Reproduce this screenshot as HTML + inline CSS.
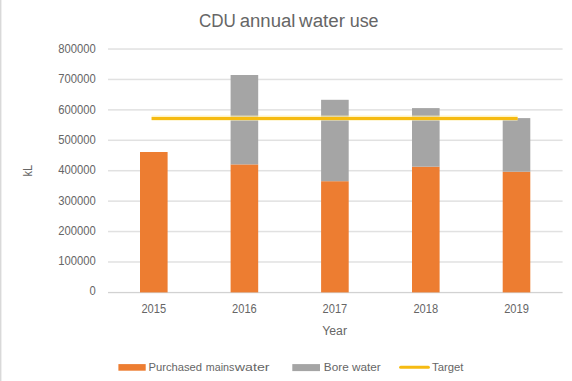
<!DOCTYPE html><html><head><meta charset="utf-8"><style>html,body{margin:0;padding:0;background:#fff;width:572px;height:381px;overflow:hidden}svg{display:block}text{font-family:"Liberation Sans",sans-serif;fill:#666666}</style></head><body>
<svg width="572" height="381" viewBox="0 0 572 381">
<rect x="0" y="0" width="572" height="381" fill="#fff"/>
<rect x="0" y="0" width="1" height="381" fill="#d9d9d9"/><rect x="1" y="0" width="1" height="381" fill="#efefef"/>
<rect x="108" y="261.23" width="454.6" height="1.5" fill="#e1e1e1"/>
<rect x="108" y="230.81" width="454.6" height="1.5" fill="#e1e1e1"/>
<rect x="108" y="200.39" width="454.6" height="1.5" fill="#e1e1e1"/>
<rect x="108" y="169.97" width="454.6" height="1.5" fill="#e1e1e1"/>
<rect x="108" y="139.55" width="454.6" height="1.5" fill="#e1e1e1"/>
<rect x="108" y="109.13" width="454.6" height="1.5" fill="#e1e1e1"/>
<rect x="108" y="78.71" width="454.6" height="1.5" fill="#e1e1e1"/>
<rect x="108" y="48.29" width="454.6" height="1.5" fill="#e1e1e1"/>
<rect x="108" y="291.90" width="454.6" height="1.3" fill="#d2d2d2"/>
<rect x="140.0" y="152.0" width="27.6" height="140.40" fill="#ed7d31"/>
<rect x="230.6" y="164.4" width="27.6" height="128.00" fill="#ed7d31"/>
<rect x="230.6" y="75.0" width="27.6" height="89.40" fill="#a5a5a5"/>
<rect x="321.1" y="181.2" width="27.6" height="111.20" fill="#ed7d31"/>
<rect x="321.1" y="99.8" width="27.6" height="81.40" fill="#a5a5a5"/>
<rect x="412.0" y="166.7" width="27.6" height="125.70" fill="#ed7d31"/>
<rect x="412.0" y="108.1" width="27.6" height="58.60" fill="#a5a5a5"/>
<rect x="502.7" y="171.7" width="27.6" height="120.70" fill="#ed7d31"/>
<rect x="502.7" y="118.1" width="27.6" height="53.60" fill="#a5a5a5"/>
<line x1="151.6" y1="118.1" x2="517.6" y2="118.1" stroke="#fff0b0" stroke-width="5.2" opacity="0.7"/>
<line x1="151.6" y1="118.4" x2="517.6" y2="118.4" stroke="#f6bb12" stroke-width="3"/>
<text x="89.45" y="295.40" font-size="12.1" textLength="6.25" lengthAdjust="spacingAndGlyphs">0</text>
<text x="58.20" y="265.11" font-size="12.1" textLength="37.50" lengthAdjust="spacingAndGlyphs">100000</text>
<text x="58.20" y="234.82" font-size="12.1" textLength="37.50" lengthAdjust="spacingAndGlyphs">200000</text>
<text x="58.20" y="204.53" font-size="12.1" textLength="37.50" lengthAdjust="spacingAndGlyphs">300000</text>
<text x="58.20" y="174.24" font-size="12.1" textLength="37.50" lengthAdjust="spacingAndGlyphs">400000</text>
<text x="58.20" y="143.95" font-size="12.1" textLength="37.50" lengthAdjust="spacingAndGlyphs">500000</text>
<text x="58.20" y="113.66" font-size="12.1" textLength="37.50" lengthAdjust="spacingAndGlyphs">600000</text>
<text x="58.20" y="83.37" font-size="12.1" textLength="37.50" lengthAdjust="spacingAndGlyphs">700000</text>
<text x="58.20" y="53.08" font-size="12.1" textLength="37.50" lengthAdjust="spacingAndGlyphs">800000</text>
<text x="141.45" y="312.7" font-size="11.9" textLength="24.7" lengthAdjust="spacingAndGlyphs">2015</text>
<text x="232.05" y="312.7" font-size="11.9" textLength="24.7" lengthAdjust="spacingAndGlyphs">2016</text>
<text x="322.55" y="312.7" font-size="11.9" textLength="24.7" lengthAdjust="spacingAndGlyphs">2017</text>
<text x="413.45" y="312.7" font-size="11.9" textLength="24.7" lengthAdjust="spacingAndGlyphs">2018</text>
<text x="504.15" y="312.7" font-size="11.9" textLength="24.7" lengthAdjust="spacingAndGlyphs">2019</text>
<text x="322.3" y="334.6" font-size="12" textLength="24.7" lengthAdjust="spacingAndGlyphs">Year</text>
<text transform="translate(31.9,176.5) rotate(-90)" x="0" y="0" font-size="12" textLength="11.6" lengthAdjust="spacingAndGlyphs">kL</text>
<text x="198.90" y="27.2" font-size="18.8" textLength="36.90" lengthAdjust="spacingAndGlyphs">CDU</text>
<text x="239.70" y="27.2" font-size="18.8" textLength="55.70" lengthAdjust="spacingAndGlyphs">annual</text>
<text x="299.10" y="27.2" font-size="18.8" textLength="45.90" lengthAdjust="spacingAndGlyphs">water</text>
<text x="349.70" y="27.2" font-size="18.8" textLength="28.90" lengthAdjust="spacingAndGlyphs">use</text>
<rect x="118.4" y="364.1" width="27.3" height="6.6" fill="#ed7d31"/>
<text x="148.50" y="370.9" font-size="11.2" textLength="53.60" lengthAdjust="spacingAndGlyphs">Purchased</text>
<text x="205.80" y="370.9" font-size="11.2" textLength="28.60" lengthAdjust="spacingAndGlyphs">mains</text>
<text x="234.80" y="370.9" font-size="11.2" textLength="34.80" lengthAdjust="spacingAndGlyphs">water</text>
<rect x="292.3" y="364.1" width="27.7" height="7" fill="#a5a5a5"/>
<text x="323.8" y="371.0" font-size="11.2" textLength="57" lengthAdjust="spacingAndGlyphs">Bore water</text>
<line x1="400.6" y1="367.3" x2="428.4" y2="367.3" stroke="#f6bb12" stroke-width="3" stroke-linecap="round"/>
<text x="432" y="371.0" font-size="11.2" textLength="31.4" lengthAdjust="spacingAndGlyphs">Target</text>
</svg></body></html>
